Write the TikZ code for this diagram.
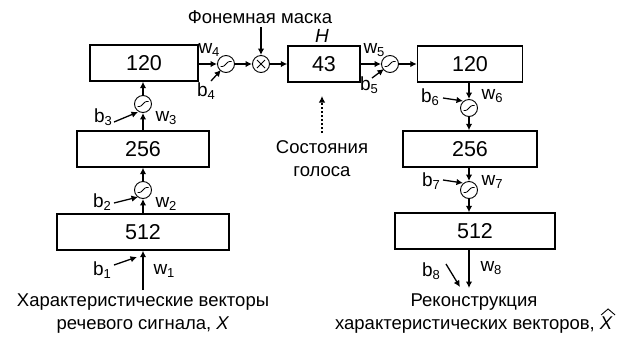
\documentclass[tikz,border=0pt]{standalone}
\usepackage{fontspec}
\setmainfont{Liberation Sans}
\usetikzlibrary{arrows.meta}
\newcommand{\lb}[2]{#1\raisebox{-0.35ex}{\fontsize{13}{13}\selectfont #2}}
\begin{document}
\begin{tikzpicture}[x=1pt,y=-1pt,
  layer/.style={draw,line width=1.4pt,minimum height=36pt,inner sep=0pt,font=\fontsize{21.5}{21.5}\selectfont},
  sig/.style={circle,draw,line width=0.9pt,minimum size=17pt,inner sep=0pt,
    path picture={\draw[line width=0.8pt,rounded corners=1pt]
      ([shift={(-5.5pt,-2.5pt)}]path picture bounding box.center) -- ++(3pt,0) -- ++(5pt,5pt) -- ++(3pt,0);}},
  mult/.style={circle,draw,line width=0.9pt,minimum size=17pt,inner sep=0pt,
    path picture={\draw[line width=0.8pt]
      ([shift={(-4pt,-4pt)}]path picture bounding box.center) -- ++(8pt,8pt)
      ([shift={(-4pt,4pt)}]path picture bounding box.center) -- ++(8pt,-8pt);}},
  arr/.style={-{Latex[length=6.5pt,width=6.5pt]},line width=1.3pt},
  lab/.style={font=\fontsize{19}{19}\selectfont,inner sep=0pt},
  txt/.style={font=\fontsize{18.5}{23}\selectfont,align=center,inner sep=0pt}]
\useasboundingbox (0,0) rectangle (619,341);
% left column
\node[layer,minimum width=172pt] (e512) at (143,232) {512};
\node[layer,minimum width=132pt] (e256) at (143,149) {256};
\node[layer,minimum width=108pt] (e120) at (144,63) {120};
\node[sig] (s2) at (143,190) {};
\node[sig] (s3) at (143,104) {};
% top row
\node[sig] (s4) at (226,64) {};
\node[mult] (m) at (261,64) {};
\node[layer,minimum width=72pt] (h43) at (324,64) {43};
\node[sig] (s5) at (390,64) {};
% right column
\node[layer,minimum width=105pt] (d120) at (470,64) {120};
\node[sig] (s6) at (469,108) {};
\node[layer,minimum width=134pt] (d256) at (470,149) {256};
\node[sig] (s7) at (469,190) {};
\node[layer,minimum width=160pt] (d512) at (475,231) {512};
% texts
\node[txt] (inp) at (143,314) {Характеристические векторы\\речевого сигнала, \textit{X}};
\node[txt] (outp) at (474,314) {Реконструкция\\характеристических векторов, \textit{X}};
\draw[line width=0.9pt] ([shift={(-12,-19)}]outp.south east) -- ([shift={(-5,-25)}]outp.south east) -- ([shift={(2,-19)}]outp.south east);
\node[txt] (mask) at (260,17) {Фонемная маска};
\node[txt] (st) at (322,159) {Состояния\\голоса};
\node[lab] (H) at (322,36) {\textit{H}};
\coordinate (inS) at (143,290);
\coordinate (maskS) at (261,27);
\coordinate (stS) at (322,133);
\coordinate (stE) at (322,96);
\coordinate (outE) at (469,288);
\coordinate (d512b) at (469,249);
% bias start points
\coordinate (b1s) at (114,265); \coordinate (b1e) at (137,257);
\coordinate (b2s) at (114,203); \coordinate (b2e) at (138,197);
\coordinate (b3s) at (114,122); \coordinate (b3e) at (138,112);
\coordinate (b4s) at (211,81); \coordinate (b4e) at (221,70);
\coordinate (b5s) at (372,78); \coordinate (b5e) at (384,69);
\coordinate (b6s) at (443,98); \coordinate (b6e) at (463,101);
\coordinate (b7s) at (443,180); \coordinate (b7e) at (463,183);
\coordinate (b8s) at (446,264); \coordinate (b8e) at (460,287);
% labels
\node[lab] (lb1) at (102,270) {\lb{b}{1}};
\node[lab] (lw1) at (164,271) {\lb{w}{1}};
\node[lab] (lb2) at (102,202) {\lb{b}{2}};
\node[lab] (lw2) at (166,204) {\lb{w}{2}};
\node[lab] (lb3) at (103,117) {\lb{b}{3}};
\node[lab] (lw3) at (166,118) {\lb{w}{3}};
\node[lab] (lw4) at (209,50) {\lb{w}{4}};
\node[lab] (lb4) at (206,91) {\lb{b}{4}};
\node[lab] (lw5) at (374,50) {\lb{w}{5}};
\node[lab] (lb5) at (369,85) {\lb{b}{5}};
\node[lab] (lb6) at (430,97) {\lb{b}{6}};
\node[lab] (lw6) at (492,96) {\lb{w}{6}};
\node[lab] (lb7) at (431,181) {\lb{b}{7}};
\node[lab] (lw7) at (492,182) {\lb{w}{7}};
\node[lab] (lb8) at (431,271) {\lb{b}{8}};
\node[lab] (lw8) at (491,268) {\lb{w}{8}};
% connectors
\draw[arr] (inS) -- (e512.south -| inS);
\draw[arr] (e512.north -| s2) -- (s2);
\draw[arr] (s2) -- (e256.south -| s2);
\draw[arr] (e256.north -| s3) -- (s3);
\draw[arr] (s3) -- (e120.south -| s3);
\draw[arr] (e120.east |- s4) -- (s4);
\draw[arr] (s4) -- (m);
\draw[arr] (maskS) -- (m);
\draw[arr] (m) -- (h43);
\draw[arr] (h43.east |- s5) -- (s5);
\draw[arr] (s5) -- (d120.west |- s5);
\draw[arr] (d120.south -| s6) -- (s6);
\draw[arr] (s6) -- (d256.north -| s6);
\draw[arr] (d256.south -| s7) -- (s7);
\draw[arr] (s7) -- (d512.north -| s7);
\draw[arr] (d512b) -- (outE);
\draw[arr,dash pattern=on 2pt off 2pt,line width=1.2pt] (stS) -- (stE);
\draw[arr] (b1s) -- (b1e);
\draw[arr] (b2s) -- (b2e);
\draw[arr] (b3s) -- (b3e);
\draw[arr] (b4s) -- (b4e);
\draw[arr] (b5s) -- (b5e);
\draw[arr] (b6s) -- (b6e);
\draw[arr] (b7s) -- (b7e);
\draw[arr] (b8s) -- (b8e);
\end{tikzpicture}
\end{document}
